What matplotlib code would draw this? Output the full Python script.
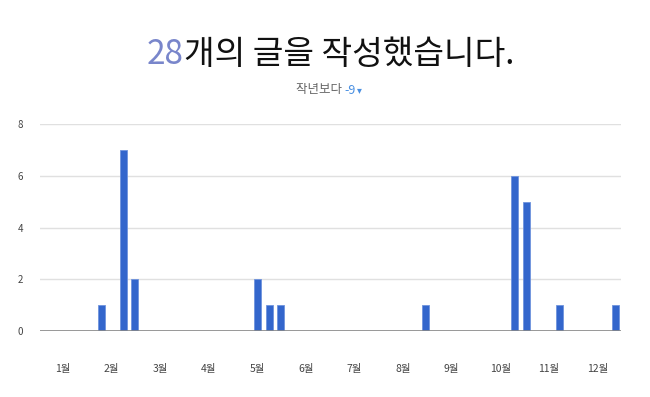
import matplotlib
matplotlib.use("Agg")
import matplotlib.pyplot as plt

plt.rcParams['font.family'] = ['Noto Sans CJK KR', 'DejaVu Sans']

# weekly post counts (week index of the year -> posts)
weeks = [5, 7, 8, 19, 20, 21, 34, 42, 43, 46, 51]
posts = [1, 7, 2, 2, 1, 1, 1, 6, 5, 1, 1]
months = ['1월', '2월', '3월', '4월', '5월', '6월', '7월', '8월', '9월', '10월', '11월', '12월']
total = 28
diff = '-9'

W, H = 650, 397
fig = plt.figure(figsize=(W / 100, H / 100), dpi=100)
ax = fig.add_axes([40 / W, 66 / H, 581 / W, 207 / H])

ax.bar(weeks, posts, width=0.63, color='#3366cc', edgecolor='#6f93dd', linewidth=0.6)
ax.set_xlim(-0.5, 51.5)
ax.set_ylim(0, 8)
ax.set_yticks([0, 2, 4, 6, 8])
ax.grid(axis='y', color='#e0e0e0', linewidth=1)
ax.set_axisbelow(True)
ax.axhline(0, color='#888888', linewidth=1.2)
for s in ax.spines.values():
    s.set_visible(False)

mpos = [1.55 + 4.35 * i for i in range(12)]
ax.set_xticks(mpos)
ax.set_xticklabels(months)
ax.tick_params(axis='x', length=0, pad=24, labelsize=7.5, labelcolor='#444444')
ax.tick_params(axis='y', length=0, pad=12, labelsize=7, labelcolor='#444444')

# title: number in blue-purple, rest in black
t1 = fig.text(147 / W, 1 - 64 / H, str(total), fontsize=24, color='#7986cb', va='baseline')
fig.canvas.draw()
bb = t1.get_window_extent()
fig.text(bb.x1 / W, 1 - 64 / H, '개의 글을 작성했습니다.', fontsize=24, color='#111111', va='baseline')

t2 = fig.text(296 / W, 1 - 90 / H, '작년보다 ', fontsize=9, color='#666666', va='center')
fig.canvas.draw()
bb2 = t2.get_window_extent()
t3 = fig.text(bb2.x1 / W, 1 - 90 / H, diff, fontsize=9, color='#4a90e2', va='center')
fig.canvas.draw()
bb3 = t3.get_window_extent()
fig.text(bb3.x1 / W + 0.002, 1 - 90 / H, '▾', fontsize=7, color='#4a90e2', va='center')

fig.savefig('out.png', dpi=100)
